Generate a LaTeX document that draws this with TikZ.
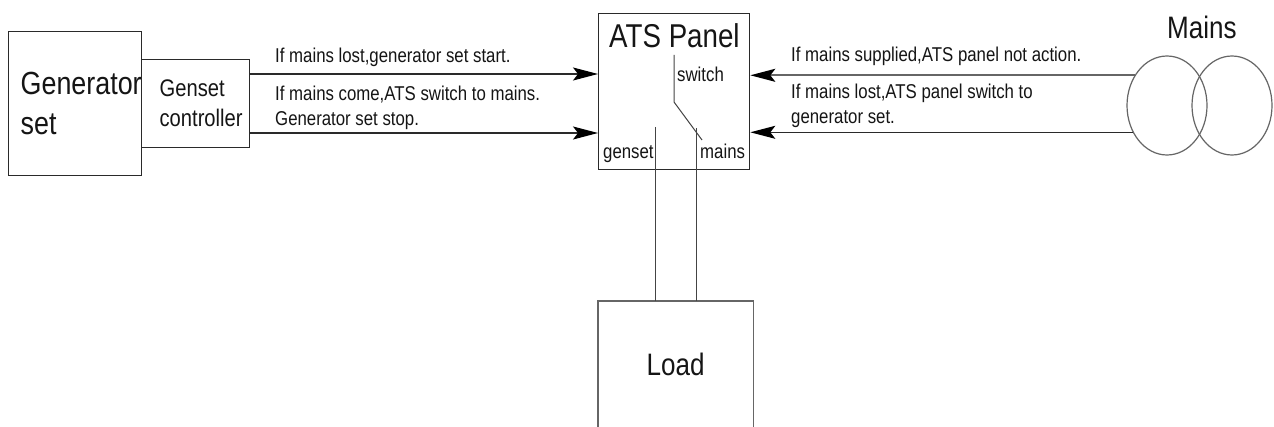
\documentclass[tikz,border=0pt]{standalone}
\usepackage{fontspec}
\setmainfont[FakeStretch=0.84]{Liberation Sans}
\usetikzlibrary{arrows.meta,shapes.geometric}
\definecolor{ink}{HTML}{151515}
\definecolor{edge}{HTML}{2A2A2A}
\definecolor{soft}{HTML}{666666}
\definecolor{wirecol}{HTML}{444444}
\tikzset{
  x=1pt,y=-1pt,
  boxed/.style={draw=edge,line width=1.3pt,rectangle,inner sep=0pt,text=ink,anchor=north west},
  circ/.style={draw=soft,line width=1.2pt,ellipse,inner sep=0pt,minimum width=80pt,minimum height=99pt},
  caption/.style={anchor=base west,inner sep=0pt,text=ink,align=left},
  big/.style={font=\fontsize{32}{40}\selectfont},
  mid/.style={font=\fontsize{24}{30}\selectfont},
  small/.style={font=\fontsize{20}{25}\selectfont},
  wire/.style={draw=wirecol,line width=1pt},
  signal/.style={draw=edge,line width=1.3pt,-{Stealth[length=25pt,width=13pt,inset=5pt,color=black]}},
}
\begin{document}
\begin{tikzpicture}
\useasboundingbox (0,0) rectangle (1274,427);
\fill[white] (0,0) rectangle (1274,427);

% boxes
\node[boxed,big,minimum width=133pt,minimum height=144pt,text width=133pt,align=flush left] (gen) at (8,31)
  {\hspace*{12pt}\mbox{Generator}\\\hspace*{12pt}set};
\node[boxed,mid,minimum width=108pt,minimum height=88pt,text width=108pt,align=flush left] (ctrl) at (141,59)
  {\hspace*{18pt}\mbox{Genset}\\\hspace*{18pt}\mbox{controller}};
\node[boxed,minimum width=151pt,minimum height=156pt] (ats) at (598,13) {};
\node[anchor=north west,inner sep=0pt,minimum width=155pt,minimum height=126pt,text=ink,font=\fontsize{31}{38}\selectfont] (load) at (598,301) {Load};
\draw[draw=soft,line width=1.5pt] (load.south west) -- (load.north west) -- (load.north east) -- (load.south east);

% mains
\node[circ] (m1) at (1167,105.5) {};
\node[circ] (m2) at (1232,105.5) {};
\node[caption,font=\fontsize{31}{38}\selectfont] (mainstitle) at (1167,39) {Mains};

% ATS panel inner labels
\node[caption,font=\fontsize{33}{40}\selectfont] (atstitle) at (609,48) {ATS Panel};
\node[caption,small] (swlabel) at (677,82) {switch};
\node[caption,small] (gslabel) at (603,159) {genset};
\node[caption,small] (mnlabel) at (700,159) {mains};

% switch
\coordinate (swtop) at (674,55);
\coordinate (swknee) at (674,102);
\coordinate (swend) at (702,140);
\draw[wire] (swtop) -- (swknee) -- (swend);
\coordinate (gstop) at (655,127);
\coordinate (mntop) at (696,128);
\draw[wire] (gstop) -- (gstop |- load.north);
\draw[wire] (mntop) -- (mntop |- load.north);

% left signals
\coordinate (yA) at (0,74);
\coordinate (yB) at (0,133);
\draw[signal] (ctrl.east |- yA) -- (ats.west |- yA);
\draw[signal] (ctrl.east |- yB) -- (ats.west |- yB);
\node[caption,small] (msgA) at (275,63) {If mains lost,generator set start.};
\node[caption,small] (msgB) at (275,101) {If mains come,ATS switch to mains.};
\node[caption,small] (msgC) at (275,126) {Generator set stop.};

% right signals
\draw[signal,draw=soft,line width=2pt] (m1.137.5) -- (ats.east |- m1.137.5);
\draw[signal] (m1.218) -- (ats.east |- m1.218);
\node[caption,small] (msgD) at (791,62) {If mains supplied,ATS panel not action.};
\node[caption,small] (msgE) at (791,99) {If mains lost,ATS panel switch to};
\node[caption,small] (msgF) at (791,124) {generator set.};
\end{tikzpicture}
\end{document}
